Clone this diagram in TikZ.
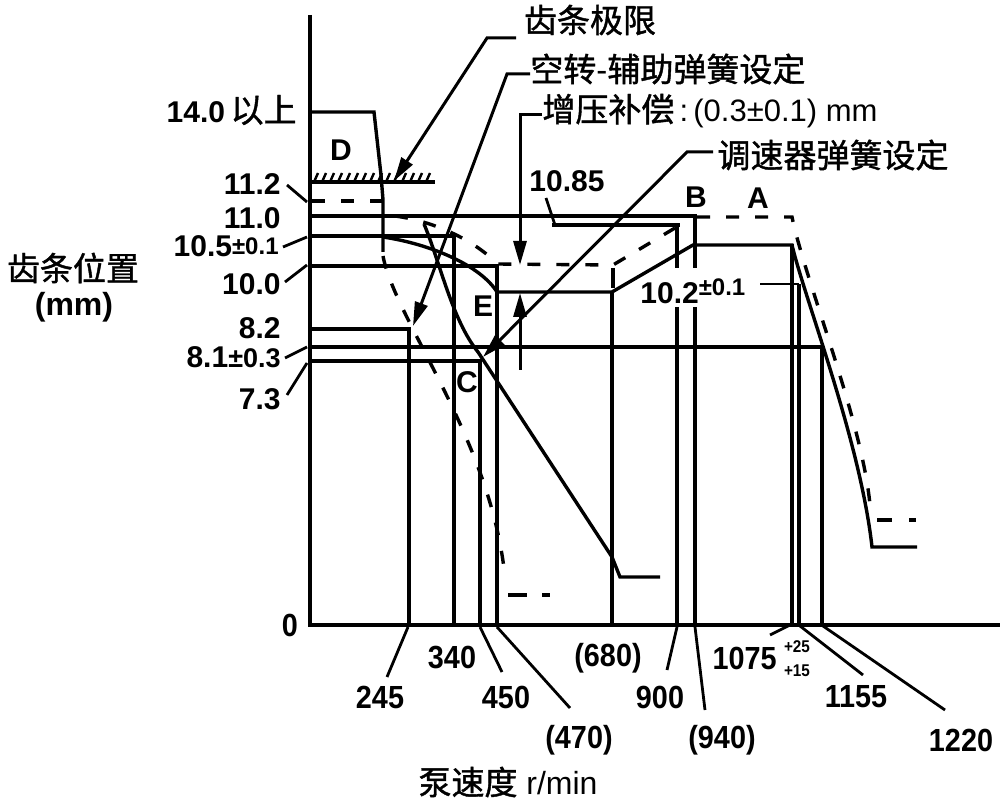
\documentclass[tikz,border=0pt]{standalone}
\usepackage{fontspec}
\setmainfont{Liberation Sans}
\newfontfamily\cjk{Noto Sans CJK SC}[FakeBold=1.2]
\newfontfamily\condf{Liberation Sans}[FakeStretch=0.9]
\usetikzlibrary{arrows.meta}
\begin{document}
\begin{tikzpicture}[x=0.5pt,y=-0.5pt,
  ln/.style={line width=1.7pt},
  dsh/.style={line width=1.7pt, dash pattern=on 6.5pt off 8pt},
  lead/.style={line width=1.4pt},
  arr/.style={line width=1.5pt,-{Triangle[length=12pt,width=6.5pt]}},
  lab/.style={font=\fontsize{15}{18}\selectfont\bfseries, inner sep=0pt},
  blab/.style={font=\condf\fontsize{16}{18}\selectfont\bfseries, inner sep=0pt},
  cj/.style={font=\cjk\fontsize{16.5}{20}\selectfont, inner sep=0pt},
  small/.style={font=\condf\fontsize{8.5}{11}\selectfont\bfseries, inner sep=0pt}]
\useasboundingbox (0,0) rectangle (1000,801);

% axes
\draw[line width=1.8pt] (310,15) -- (310,625) -- (1000,625);

% level lines and speed verticals
\draw[ln] (310,112) -- (374,112) -- (381,175) -- (383,200) -- (383,252);
\draw[ln] (310,216) -- (697,216);
\draw[ln] (310,236) -- (454,236) -- (454,625);
\draw[ln] (310,266) -- (497,266) -- (497,625);
\draw[ln] (310,329) -- (409,329) -- (409,625);
\draw[ln] (310,347) -- (822,347) -- (822,625);
\draw[ln] (310,361) -- (480,361) -- (480,625);
\draw[ln] (612,292) -- (612,625);
\draw[ln] (677,226) -- (677,268) (677,307) -- (677,625);
\draw[ln] (695,216) -- (695,268) (695,307) -- (695,625);
\draw[ln] (792,244) -- (792,625);
\draw[ln] (799,284) -- (799,625);
\draw[ln] (552,225) -- (680,225);

% rack limit hatch
\draw[ln] (312,182) -- (435,182);
\foreach \x in {314,322,...,430} \draw[line width=1.2pt] (\x,182) -- (\x+4,173);

% solid full-load curve
\draw[ln] (383,237) .. controls (430,244) and (480,265) .. (497,292) -- (612,292) -- (693,245) -- (792,245)
  .. controls (805,300) and (860,440) .. (872,547) -- (917,547);
% solid idle curve
\draw[ln] (424,224) .. controls (440,262) and (452,320) .. (478,352) -- (612,557) -- (620,577) -- (660,577);

% dashed curves (with boost)
\draw[dsh] (312,201) -- (383,201);
\draw[dsh] (395,216) .. controls (440,222) and (480,245) .. (497,264) -- (613,265) -- (680,225);
\draw[ln] (613,268) -- (613,288);
\draw[dsh] (697,217) -- (792,217) .. controls (805,280) and (862,420) .. (870,505);
\draw[line width=1.7pt, dash pattern=on 7.5pt off 8.5pt on 3.5pt off 100pt] (877,520) -- (917,520);
\draw[dsh] (383,256) .. controls (395,320) and (492,440) .. (505,578);
\draw[line width=1.7pt, dash pattern=on 9.5pt off 7.5pt on 4pt off 100pt] (508,595) -- (550,595);

% left leaders
\draw[lead] (287,185) -- (307,202);
\draw[lead] (283,247) -- (307,237);
\draw[lead] (285,282) -- (307,265);
\draw[lead] (285,358) -- (307,347);
\draw[lead] (287,395) -- (307,363);
% bottom leaders
\draw[lead] (408,627) -- (387,677);
\draw[lead] (480,627) -- (502,672);
\draw[lead] (497,627) -- (570,708);
\draw[lead] (677,627) -- (667,670);
\draw[lead] (695,627) -- (705,710);
\draw[lead] (770,635) -- (792,624);
\draw[lead] (800,626) -- (863,675);
\draw[lead] (823,626) -- (945,710);
\draw[lead] (760,284) -- (799,284);
\draw[lead] (546,198) -- (555,225);

% arrows
\draw[arr] (516,38) -- (487,38) -- (394,181);
\draw[arr] (530,74) -- (507,74) -- (413,326);
\draw[arr] (713,152) -- (687,152) -- (483,357);
\draw[arr] (542,115) -- (520,115) -- (520,265);
\draw[arr] (520,370) -- (520,293);

% texts
\node[cj] (t1) at (590,20) {齿条极限};
\node[cj, anchor=west] (t2) at (530,69) {空转{\fontspec{Liberation Sans}-}辅助弹簧设定};
\node[anchor=west, inner sep=0pt, font=\fontsize{15.5}{18}\selectfont] (t3) at (542,111) {{\cjk\fontsize{16.5}{20}\selectfont 增压补偿}\,:\,(0.3±0.1) mm};
\node[cj] (t4) at (833,155) {调速器弹簧设定};
\node[cj] (ya) at (73,268) {齿条位置};
\node[lab, font=\fontsize{16}{18}\selectfont\bfseries] (yb) at (74,307) {(mm)};
\node[anchor=east, inner sep=0pt] (l14) at (297,110) {{\bfseries\fontsize{15}{18}\selectfont 14.0}\ {\cjk\fontsize{16.5}{20}\selectfont 以上}};
\node[lab, anchor=east] (l112) at (281,184) {11.2};
\node[lab, anchor=east] (l110) at (281,218) {11.0};
\node[lab, anchor=east] (l105) at (279,246) {10.5\raisebox{1pt}{\fontsize{12}{14}\selectfont ±0.1}};
\node[lab, anchor=east] (l100) at (281,284) {10.0};
\node[lab, anchor=east] (l82) at (281,328) {8.2};
\node[lab, anchor=east] (l81) at (281,357) {8.1\fontsize{13.5}{14}\selectfont ±0.3};
\node[lab, anchor=east] (l73) at (281,399) {7.3};
\node[blab] (zero) at (290,625) {0};
\node[lab] (lD) at (341,150) {D};
\node[lab] (lB) at (696,197) {B};
\node[lab] (lA) at (758,198) {A};
\node[lab] (lE) at (483,306) {E};
\node[lab] (lC) at (467,382) {C};
\node[lab] (l1085) at (567,181) {10.85};
\node[lab, anchor=west] (l102) at (640,291) {10.2\raisebox{4pt}{\fontsize{12}{14}\selectfont ±0.1}};
\node[blab] (b245) at (380,697) {245};
\node[blab] (b340) at (452,658) {340};
\node[blab] (b450) at (506,697) {450};
\node[blab] (b470) at (579,740) {(470)};
\node[blab] (b680) at (608,658) {(680)};
\node[blab] (b900) at (660,697) {900};
\node[blab] (b940) at (722,740) {(940)};
\node[blab, anchor=east] (b1075) at (777,658) {1075};
\node[small] (tolA) at (797,647) {+25};
\node[small] (tolB) at (797,671) {+15};
\node[blab] (b1155) at (856,697) {1155};
\node[blab] (b1220) at (961,740) {1220};
\node[inner sep=0pt, font=\fontsize{16}{18}\selectfont] (xl) at (508,782) {{\cjk\fontsize{16.5}{20}\selectfont 泵速度} r/min};
\end{tikzpicture}
\end{document}
